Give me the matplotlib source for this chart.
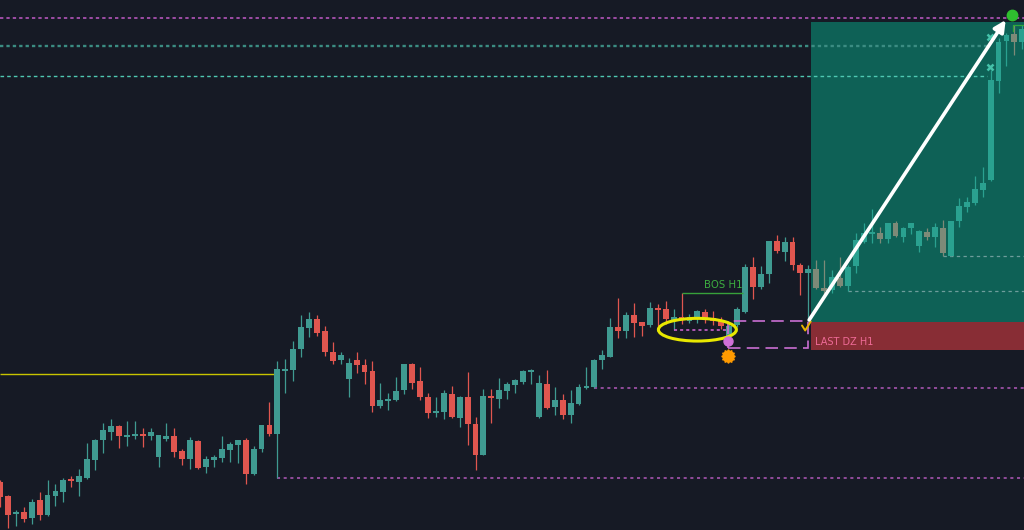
import matplotlib
matplotlib.use("Agg")
import matplotlib.pyplot as plt
from matplotlib.patches import Rectangle, Ellipse
import numpy as np

plt.rcParams['lines.scale_dashes'] = False

# ---------------- data (price units, arbitrary scale) ----------------
opens = [48, 34, 16, 18, 12, 30, 15, 34, 38, 51, 48, 52, 70, 90, 98, 104, 93, 94, 96, 94,
         73, 91, 94, 79, 71, 89, 63, 70, 72, 80, 85, 90, 56, 81, 105, 96, 159, 160, 181, 202,
         211, 199, 178, 170, 151, 170, 165, 159, 124, 129.5, 130, 140, 166, 149, 133, 117, 118, 136, 112, 133,
         106, 75, 134, 131, 139, 145, 148, 158, 113, 146, 123, 130, 115, 126, 142, 143, 170, 173, 203, 199,
         215, 208, 205, 222, 221, 210, 213, 209, 211, 218, 212, 210, 194, 205, 218, 263, 243, 256, 289, 278,
         288, 265, 257, 261, 242, 240, 252, 244, 264, 288, 296, 297, 291, 307, 293, 302, 284, 298, 293, 302,
         274, 309, 323, 327, 340, 350, 449, 489, 496, 488]
highs = [50, 35, 20, 23, 31, 38, 50, 46, 52, 54, 61, 87, 91, 107, 111, 105, 109, 109, 102, 102,
         95, 107, 102, 81, 93, 90, 74, 75, 94, 88, 90, 92, 84, 105, 128, 169, 171, 189, 215, 218,
         215, 204, 188, 178, 172, 178, 171, 169, 147, 137, 153, 166, 167, 163, 137, 133, 140, 144, 134, 158,
         113, 141, 141, 152, 148.5, 151, 160, 161, 155, 160, 143, 136, 140, 146, 163, 171, 180, 212, 232, 218,
         227, 208, 228, 226, 229, 221, 237, 216, 220, 221, 219, 213, 208, 223, 266, 273, 264, 289, 295, 293,
         293, 267, 265, 270, 270, 260, 273, 265, 297, 307, 321, 303, 307, 309, 303, 307, 300, 302, 307, 310,
         309, 332, 333, 354, 363, 460, 492, 497, 505, 505]
lows = [23, 2, 4, 8, 6, 10, 14, 24, 28, 43, 34, 51, 60, 77, 90, 82, 84, 91, 83, 90,
        63, 89, 73, 65, 61, 61.5, 57, 63, 68, 68, 67, 46, 55, 78, 94, 52, 137, 149, 173, 193,
        194, 174, 166, 166, 133, 157, 146, 118, 122, 120, 129, 136, 141, 130, 112, 113, 111, 112, 103, 85,
        60, 75, 107, 122, 131, 137, 146, 146, 112, 121, 115, 111, 107, 125, 141, 142, 161, 173, 192, 192,
        193, 194, 203, 200, 206, 200, 206, 207, 207, 207, 205, 201, 192, 203, 217, 231, 241, 247, 277, 269,
        260, 235, 210, 241, 233, 237, 243, 239, 257, 287, 287, 287, 287, 293, 288, 296, 278, 290, 283, 274,
        274, 303, 318, 325, 333, 349, 437, 464, 475, 481]
closes = [33, 15, 18, 11, 28, 15, 35, 39, 50, 49, 54, 71, 90, 100, 104, 94, 95, 96, 94.5, 98,
          95, 94, 78, 71, 90, 62, 71, 73, 81, 86, 90, 56, 81, 105, 96, 161, 161, 181, 203, 211,
          197, 178, 169, 175, 167, 165, 158, 124, 130, 131, 139, 166, 147, 133, 117, 119, 137, 113, 133, 106,
          75, 134, 132, 140, 146.5, 150, 159, 160, 147, 122, 130, 115, 127, 143, 144, 170, 175, 203, 199, 215,
          207, 204, 222, 220, 211, 213, 210, 213, 219, 211, 209, 204, 204, 221, 263, 243, 256, 289, 279, 288,
          265, 257, 261, 242, 239, 253, 244, 263, 290, 297, 298, 291, 307, 294, 302, 307, 299, 293, 303, 277,
          309, 324, 328, 341, 347, 450, 488, 495, 488, 501]

# levels / annotations
top_magenta_level = 511.7
teal_dash_level = 484.3
cyan_dash_level = 453.7
target_lines_end = 124.5
yellow_level = 156
yellow_end = 35
low_dotted_level = 52
low_dotted_start = 35
mid_dotted_level = 142.5
mid_dotted_start = 75
zone_start = 102.3
zone_top = 508.3
zone_bottom = 208.3
dz_bottom = 180
box_left, box_right = 91.9, 102.0
box_top, box_bottom = 209.3, 181.7
inner_dotted_level = 200
inner_dotted_range = (85, 91.7)
bos_level = 237.3
bos_range = (86, 93.8)
zone_dash_levels = [239, 274]
zone_dash_starts = [107, 119]
arrow_start = (102.1, 210)
arrow_end = (126.9, 510)
check_x = [101.2, 101.6, 102.3]
check_y = [204.5, 199.5, 208.5]

zone_first_idx = 103

# ---------------- figure ----------------
BG = '#161a25'
fig = plt.figure(figsize=(10.24, 5.30), dpi=100)
fig.patch.set_facecolor(BG)
ax = fig.add_axes([0, 0, 1, 1])
ax.set_facecolor(BG)
N = len(opens)
XMAX = 1024 / 7.925
ax.set_xlim(0, XMAX)
ax.set_ylim(0, 530)
ax.axis('off')

# zones
ax.add_patch(Rectangle((zone_start, zone_bottom), XMAX - zone_start + 1, zone_top - zone_bottom,
                       facecolor='#0e6156', edgecolor='none', zorder=1))
ax.add_patch(Rectangle((zone_start, dz_bottom), XMAX - zone_start + 1, zone_bottom - dz_bottom,
                       facecolor='#882d35', edgecolor='none', zorder=1))

# horizontal levels
ax.hlines(top_magenta_level, 0, XMAX, colors='#c25ac8', lw=1.1, linestyles=(0, (2.4, 2.2)), zorder=2)
ax.hlines(teal_dash_level, 0, target_lines_end, colors='#3b8c82', lw=1.7, linestyles=(0, (2.4, 2.2)), zorder=2)
ax.hlines(cyan_dash_level, 0, target_lines_end, colors='#4fc8b2', lw=1.0, linestyles=(0, (2.6, 2.2)), zorder=2)
ax.hlines(yellow_level, 0, yellow_end, colors='#c8c400', lw=1.0, zorder=2)
ax.hlines(low_dotted_level, low_dotted_start, XMAX, colors='#9a50a4', lw=1.3, linestyles=(0, (2.2, 2.6)), zorder=2)
ax.hlines(mid_dotted_level, mid_dotted_start, XMAX, colors='#9a50a4', lw=1.3, linestyles=(0, (2.2, 2.6)), zorder=2)
for lev, st in zip(zone_dash_levels, zone_dash_starts):
    ax.hlines(lev, st, XMAX, colors='#8fb2b4', lw=0.9, alpha=0.75, linestyles=(0, (2.4, 2.4)), zorder=2)

# candles
o = np.array(opens, float); h = np.array(highs, float)
l = np.array(lows, float); c = np.array(closes, float)
x = np.arange(N)
up = c >= o
inzone = x >= zone_first_idx
col = np.where(up, '#3f9a91', '#e0564f').astype(object)
col[inzone & up] = '#2aa190'
col[inzone & ~up] = '#7d8a78'
ax.vlines(x, l, h, colors=list(col), lw=0.9, zorder=3)
bottoms = np.minimum(o, c)
heights = np.maximum(np.abs(c - o), 1.8)
ax.bar(x, heights, bottom=bottoms, width=0.74, color=list(col), edgecolor='none', zorder=4)

# dashed box
ax.add_patch(Rectangle((box_left, box_bottom), box_right - box_left, box_top - box_bottom,
                       facecolor='none', edgecolor='#c96fd2', lw=1.2, linestyle=(0, (9, 4.5)), zorder=5))
ax.hlines(inner_dotted_level, *inner_dotted_range, colors='#c862cc', lw=1.2, linestyles=(0, (2.2, 2.2)), zorder=5)

# BOS
ax.hlines(bos_level, *bos_range, colors='#37a13a', lw=1.0, zorder=5)
ax.text(bos_range[1] - 0.1, bos_level + 2.5, 'BOS H1', color='#3db040', fontsize=7.3,
        ha='right', va='bottom', zorder=6)

# ellipse
ax.add_patch(Ellipse((88.0, 200.3), 9.84, 22.7, facecolor='none', edgecolor='#e8e800', lw=2.2, zorder=6))

# markers
ax.plot([91.9], [189], 'o', color='#d070d8', ms=6.5, zorder=7)
ax.plot([91.9], [174], 'o', color='#ff9a00', ms=8, zorder=7)
ax.plot([91.9], [174], marker=(12, 1, 0), color='#ff9a00', ms=10, zorder=7, mec='#ff9a00')
ax.plot(check_x, check_y, color='#e8b400', lw=1.4, solid_capstyle='round', zorder=7)
ax.plot([124.9, 124.9], [493, 463], 'x', color='#45c2aa', ms=5, mew=1.8, zorder=7)
ax.plot([127.7], [515], 'o', color='#2fbf2f', ms=7.5, zorder=8)
ax.plot([127.85, 127.85, XMAX], [499.5, 505, 505], color='#2fa83a', lw=0.9, zorder=5)

# LAST DZ text
ax.text(102.9, 185, 'LAST DZ H1', color='#ee6a96', fontsize=7, ha='left', va='baseline', zorder=6)

# arrow
ax.annotate('', xy=arrow_end, xytext=arrow_start,
            arrowprops=dict(arrowstyle='-|>', color='white', lw=2.6, mutation_scale=17,
                            shrinkA=0, shrinkB=0), zorder=9)

fig.savefig('out.png', dpi=100, facecolor=BG)
